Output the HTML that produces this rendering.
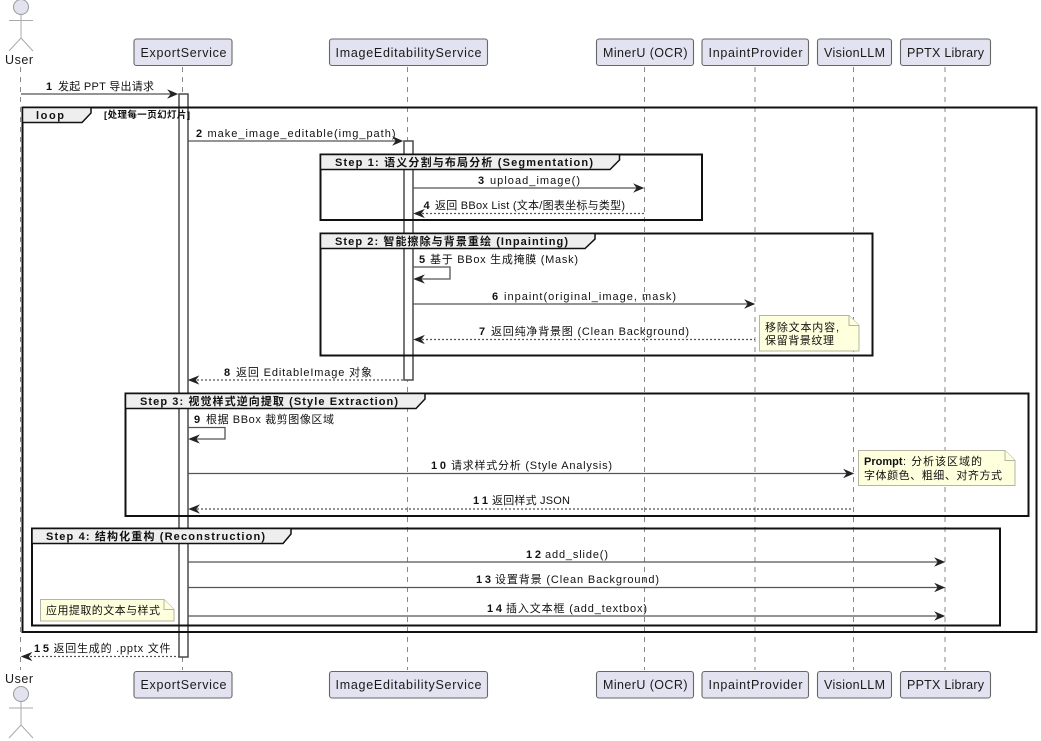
<!DOCTYPE html>
<html><head><meta charset="utf-8"><style>
html,body{margin:0;padding:0;background:#fff;width:1041px;height:741px;overflow:hidden}
svg{display:block}
text{font-family:"Liberation Sans","Noto Sans CJK SC",sans-serif;font-size:11px;fill:#111}
.p{font-size:12.5px;fill:#1a1a1a}
.b{font-weight:bold}
.t{font-weight:bold;font-size:11px;fill:#111}
.life{stroke:#888;stroke-width:1;stroke-dasharray:5,5;fill:none}
.box{fill:#E2E2F0;stroke:#666;stroke-width:1.1}
.act{fill:#fff;stroke:#4a4a4a;stroke-width:1.5}
.frame{fill:none;stroke:#111;stroke-width:2}
.tab{fill:#eee;stroke:#111;stroke-width:1.5}
.m{stroke:#555;stroke-width:1.3;fill:none}
.d{stroke:#555;stroke-width:1.3;fill:none;stroke-dasharray:2,2}
.ah{fill:#222;stroke:#222;stroke-width:.6}
.note{fill:#FEFFDD;stroke:#b5b5a5;stroke-width:1}
.actor{fill:#E2E2F0;stroke:#999;stroke-width:1}
.al{stroke:#aaa;stroke-width:1;fill:none}
</style></head><body>
<svg width="1041" height="741" viewBox="0 0 1041 741" xmlns="http://www.w3.org/2000/svg">
<!-- lifelines -->
<path class="life" d="M20.5 67V670"/>
<path class="life" d="M182.5 67V670"/>
<path class="life" d="M407.5 67V670"/>
<path class="life" d="M644.5 67V670"/>
<path class="life" d="M755 67V670"/>
<path class="life" d="M853.5 67V670"/>
<path class="life" d="M945 67V670"/>

<!-- activations -->
<rect class="act" x="179" y="94" width="9" height="563"/>
<rect class="act" x="404" y="141" width="9" height="239"/>

<!-- actors -->
<circle class="actor" cx="21" cy="7" r="7.5"/>
<path class="al" d="M21 15V38M9 20.5H33M9 51L21 38L33 51"/>
<text class="p" x="5" y="64" textLength="28" lengthAdjust="spacing">User</text>
<text class="p" x="5" y="683" textLength="28" lengthAdjust="spacing">User</text>
<circle class="actor" cx="21" cy="694" r="7.5"/>
<path class="al" d="M21 702V725M9 708H33M9 738L21 725L33 738"/>

<!-- participants top -->
<rect class="box" x="134" y="39" width="98" height="26.5" rx="2.5"/>
<text class="p" x="140.500" y="57" textLength="86" lengthAdjust="spacing">ExportService</text>
<rect class="box" x="329.500" y="39" width="158" height="26.500" rx="2.500"/>
<text class="p" x="335.500" y="57" textLength="146" lengthAdjust="spacing">ImageEditabilityService</text>
<rect class="box" x="596.500" y="39" width="97" height="26.500" rx="2.500"/>
<text class="p" x="603" y="57" textLength="84.500" lengthAdjust="spacing">MinerU (OCR)</text>
<rect class="box" x="702" y="39" width="106.500" height="26.500" rx="2.500"/>
<text class="p" x="708.500" y="57" textLength="94" lengthAdjust="spacing">InpaintProvider</text>
<rect class="box" x="817.500" y="39" width="74" height="26.500" rx="2.500"/>
<text class="p" x="824" y="57" textLength="61" lengthAdjust="spacing">VisionLLM</text>
<rect class="box" x="900.500" y="39" width="90" height="26.500" rx="2.500"/>
<text class="p" x="907" y="57" textLength="77" lengthAdjust="spacing">PPTX Library</text>

<!-- participants bottom -->
<rect class="box" x="134" y="671.500" width="98" height="26.500" rx="2.500"/>
<text class="p" x="140.500" y="689" textLength="86" lengthAdjust="spacing">ExportService</text>
<rect class="box" x="329.500" y="671.500" width="158" height="26.500" rx="2.500"/>
<text class="p" x="335.500" y="689" textLength="146" lengthAdjust="spacing">ImageEditabilityService</text>
<rect class="box" x="596.500" y="671.500" width="97" height="26.500" rx="2.500"/>
<text class="p" x="603" y="689" textLength="84.500" lengthAdjust="spacing">MinerU (OCR)</text>
<rect class="box" x="702" y="671.500" width="106.500" height="26.500" rx="2.500"/>
<text class="p" x="708.500" y="689" textLength="94" lengthAdjust="spacing">InpaintProvider</text>
<rect class="box" x="817.500" y="671.500" width="74" height="26.500" rx="2.500"/>
<text class="p" x="824" y="689" textLength="61" lengthAdjust="spacing">VisionLLM</text>
<rect class="box" x="900.500" y="671.500" width="90" height="26.500" rx="2.500"/>
<text class="p" x="907" y="689" textLength="77" lengthAdjust="spacing">PPTX Library</text>

<!-- frames -->
<rect class="frame" x="22.500" y="107.500" width="1014" height="524.500"/>
<path class="tab" d="M22.500 107.500H91V113L82 122.500H22.500Z"/>
<text class="t" x="36" y="119" textLength="28" lengthAdjust="spacing">loop</text>
<text x="104" y="118" style="font-size:9.5px;font-weight:bold" textLength="86" lengthAdjust="spacing">[处理每一页幻灯片]</text>

<rect class="frame" x="320.500" y="154.500" width="381.500" height="65.500"/>
<path class="tab" d="M320.500 154.500H619.500V160L610 169.500H320.500Z"/>
<text class="t" x="335" y="166" textLength="258" lengthAdjust="spacing">Step 1: 语义分割与布局分析 (Segmentation)</text>

<rect class="frame" x="320.500" y="233.500" width="552" height="122"/>
<path class="tab" d="M320.500 233.500H595V239L585 248.500H320.500Z"/>
<text class="t" x="335" y="245" textLength="233" lengthAdjust="spacing">Step 2: 智能擦除与背景重绘 (Inpainting)</text>

<rect class="frame" x="125.500" y="393.500" width="903" height="122.500"/>
<path class="tab" d="M125.500 393.500H425V399L416 408.500H125.500Z"/>
<text class="t" x="140" y="405" textLength="258" lengthAdjust="spacing">Step 3: 视觉样式逆向提取 (Style Extraction)</text>

<rect class="frame" x="32" y="528.500" width="968" height="97"/>
<path class="tab" d="M32 528.500H291V534L283 543.500H32Z"/>
<text class="t" x="46" y="540" textLength="219" lengthAdjust="spacing">Step 4: 结构化重构 (Reconstruction)</text>

<!-- messages -->
<path class="m" d="M21 94H173"/><path class="ah" d="M177.500 94L168 90L171 94L168 98Z"/>
<text class="b" x="46" y="90">1</text><text x="58" y="90" textLength="96" lengthAdjust="spacing">发起 PPT 导出请求</text>

<path class="m" d="M188 141H398"/><path class="ah" d="M402.500 141L393 137L396 141L393 145Z"/>
<text class="b" x="196" y="137">2</text><text x="207.500" y="137" textLength="188" lengthAdjust="spacing">make_image_editable(img_path)</text>

<path class="m" d="M413 188H639"/><path class="ah" d="M643.500 188L634 184L637 188L634 192Z"/>
<text class="b" x="478" y="184">3</text><text x="490" y="184" textLength="90" lengthAdjust="spacing">upload_image()</text>

<path class="d" d="M418 213.500H644"/><path class="ah" d="M414 213.500L424 209.500L421 213.500L424 217.500Z"/>
<text class="b" x="423.500" y="209">4</text><text x="435" y="209" textLength="190" lengthAdjust="spacing">返回 BBox List (文本/图表坐标与类型)</text>

<path class="m" d="M413 267H450V279H418"/><path class="ah" d="M414 279L424 275L421 279L424 283Z"/>
<text class="b" x="419" y="263">5</text><text x="430" y="263" textLength="148" lengthAdjust="spacing">基于 BBox 生成掩膜 (Mask)</text>

<path class="m" d="M413 304H750"/><path class="ah" d="M754.500 304L745 300L748 304L745 308Z"/>
<text class="b" x="492" y="300">6</text><text x="504" y="300" textLength="172" lengthAdjust="spacing">inpaint(original_image, mask)</text>

<path class="d" d="M418 339.500H755"/><path class="ah" d="M414 339.500L424 335.500L421 339.500L424 343.500Z"/>
<text class="b" x="479" y="335">7</text><text x="491" y="335" textLength="198" lengthAdjust="spacing">返回纯净背景图 (Clean Background)</text>

<path class="d" d="M193 380H404"/><path class="ah" d="M188.500 380L198.500 376L195.500 380L198.500 384Z"/>
<text class="b" x="224" y="376">8</text><text x="236" y="376" textLength="136" lengthAdjust="spacing">返回 EditableImage 对象</text>

<path class="m" d="M188 427.500H225V439H193"/><path class="ah" d="M189 439L199 435L196 439L199 443Z"/>
<text class="b" x="194" y="423">9</text><text x="206" y="423" textLength="128" lengthAdjust="spacing">根据 BBox 裁剪图像区域</text>

<path class="m" d="M188 473.500H849"/><path class="ah" d="M853.500 473.500L844 469.500L847 473.500L844 477.500Z"/>
<text class="b" x="431" y="469" textLength="15" lengthAdjust="spacing">10</text><text x="451" y="469" textLength="161" lengthAdjust="spacing">请求样式分析 (Style Analysis)</text>

<path class="d" d="M193 509H853"/><path class="ah" d="M189 509L199 505L196 509L199 513Z"/>
<text class="b" x="473" y="504" textLength="15" lengthAdjust="spacing">11</text><text x="492" y="504" textLength="78" lengthAdjust="spacing">返回样式 JSON</text>

<path class="m" d="M188 562H940"/><path class="ah" d="M944.500 562L935 558L938 562L935 566Z"/>
<text class="b" x="526" y="558" textLength="15" lengthAdjust="spacing">12</text><text x="545" y="558" textLength="63" lengthAdjust="spacing">add_slide()</text>

<path class="m" d="M188 587.500H940"/><path class="ah" d="M944.500 587.500L935 583.500L938 587.500L935 591.500Z"/>
<text class="b" x="476" y="583" textLength="15" lengthAdjust="spacing">13</text><text x="495" y="583" textLength="164" lengthAdjust="spacing">设置背景 (Clean Background)</text>

<path class="m" d="M188 616H940"/><path class="ah" d="M944.500 616L935 612L938 616L935 620Z"/>
<text class="b" x="487" y="612" textLength="15" lengthAdjust="spacing">14</text><text x="506" y="612" textLength="141" lengthAdjust="spacing">插入文本框 (add_textbox)</text>

<path class="d" d="M26 656.500H179"/><path class="ah" d="M21.500 656.500L31.500 652.500L28.500 656.500L31.500 660.500Z"/>
<text class="b" x="34" y="652" textLength="15" lengthAdjust="spacing">15</text><text x="53.500" y="652" textLength="117" lengthAdjust="spacing">返回生成的 .pptx 文件</text>

<!-- notes -->
<path class="note" d="M759.500 315.500H849L859 325.500V351H759.500Z"/><path class="note" d="M849 315.500V325.500H859"/>
<text x="765" y="331" textLength="74" lengthAdjust="spacing">移除文本内容,</text>
<text x="765" y="344" textLength="69" lengthAdjust="spacing">保留背景纹理</text>

<path class="note" d="M858.500 450.500H1005L1015 460.500V485.500H858.500Z"/><path class="note" d="M1005 450.500V460.500H1015"/>
<text x="864" y="465" class="b">Prompt</text><text x="903" y="465" textLength="79" lengthAdjust="spacing">: 分析该区域的</text>
<text x="864" y="479" textLength="138" lengthAdjust="spacing">字体颜色、粗细、对齐方式</text>

<path class="note" d="M40.500 599.500H164L174 609.500V621H40.500Z"/><path class="note" d="M164 599.500V609.500H174"/>
<text x="46" y="614" textLength="114" lengthAdjust="spacing">应用提取的文本与样式</text>
</svg>
</body></html>
